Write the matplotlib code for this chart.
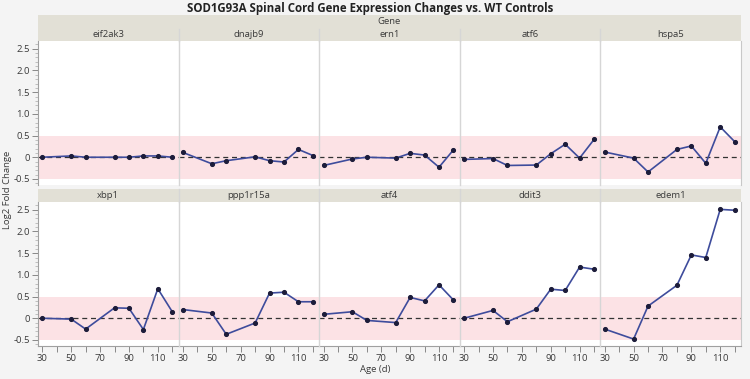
import matplotlib
matplotlib.use("Agg")
import matplotlib.pyplot as plt
from matplotlib.ticker import MultipleLocator, FixedLocator
import matplotlib.lines as mlines

plt.rcParams['font.family'] = ['Open Sans', 'DejaVu Sans']

ages = [30, 50, 60, 80, 90, 100, 110, 120]
genes = ["eif2ak3", "dnajb9", "ern1", "atf6", "hspa5",
         "xbp1", "ppp1r15a", "atf4", "ddit3", "edem1"]
eif2ak3 = [0.0, 0.03, 0.0, 0.0, 0.0, 0.03, 0.03, 0.0]
dnajb9 = [0.11, -0.15, -0.08, 0.01, -0.08, -0.11, 0.18, 0.04]
ern1 = [-0.19, -0.04, 0.0, -0.02, 0.09, 0.05, -0.23, 0.17]
atf6 = [-0.05, -0.03, -0.19, -0.18, 0.08, 0.30, -0.02, 0.41]
hspa5 = [0.12, -0.02, -0.34, 0.18, 0.26, -0.14, 0.70, 0.36]
xbp1 = [0.0, -0.02, -0.25, 0.24, 0.23, -0.26, 0.68, 0.15]
ppp1r15a = [0.20, 0.12, -0.37, -0.11, 0.58, 0.60, 0.38, 0.38]
atf4 = [0.09, 0.15, -0.05, -0.10, 0.48, 0.40, 0.77, 0.42]
ddit3 = [0.0, 0.18, -0.08, 0.21, 0.67, 0.64, 1.18, 1.13]
edem1 = [-0.25, -0.48, 0.28, 0.76, 1.46, 1.40, 2.51, 2.49]
series = [eif2ak3, dnajb9, ern1, atf6, hspa5, xbp1, ppp1r15a, atf4, ddit3, edem1]

title = "SOD1G93A Spinal Cord Gene Expression Changes vs. WT Controls"
ylabel = "Log2 Fold Change"
xlabel = "Age (d)"
band_lo, band_hi = -0.5, 0.5

W, H = 750, 379
fig = plt.figure(figsize=(W / 100, H / 100), dpi=100)
bg = "#F4F4F4"
fig.patch.set_facecolor(bg)

strip_col = "#E2E0D6"
sep_col = "#D6D6D6"
pink = "#FCE2E5"
line_col = "#3E4C9C"
mk_col = "#1C1C3A"
txt_col = "#3A3A3A"

def px_axes(x0, y0, x1, y1, **kw):
    return fig.add_axes([x0 / W, 1 - y1 / H, (x1 - x0) / W, (y1 - y0) / H], **kw)

left, right = 38, 741
colw = (right - left) / 5
rows = [(41, 185), (202, 346)]
strips = [(28.5, 41), (189, 202)]

gax = px_axes(left, 15, right, 28.5)
gax.set_facecolor(strip_col)
gax.set_xticks([]); gax.set_yticks([])
for s in gax.spines.values():
    s.set_visible(False)
gax.text(0.5, 0.5, "Gene", ha="center", va="center", fontsize=6.8, color=txt_col, transform=gax.transAxes)

fig.text(370 / W, 1 - 8.5 / H, title, ha="center", va="center", fontsize=8.3, fontweight="bold", color="#222222")

for i, (g, vals) in enumerate(zip(genes, series)):
    r, c = divmod(i, 5)
    x0 = left + c * colw
    x1 = x0 + colw
    ytop, ybot = rows[r]
    stop, sbot = strips[r]
    sax = px_axes(x0, stop, x1, sbot)
    sax.set_facecolor(strip_col)
    sax.set_xticks([]); sax.set_yticks([])
    for s in sax.spines.values():
        s.set_visible(False)
    sax.text(0.5, 0.5, g, ha="center", va="center", fontsize=6.8, color=txt_col, transform=sax.transAxes)

    ax = px_axes(x0, ytop, x1, ybot)
    ax.set_facecolor("white")
    ax.set_xlim(27, 124.4)
    ax.set_ylim(-0.64, 2.68)
    ax.axhspan(band_lo, band_hi, color=pink, lw=0, zorder=0)
    ax.axhline(0, color="#333333", lw=0.9, ls=(0, (4, 3)), zorder=1)
    ax.plot(ages, vals, color=line_col, lw=1.2, zorder=2)
    ax.plot(ages, vals, ls="none", marker="o", ms=2.7, color=mk_col, zorder=3)
    for s in ax.spines.values():
        s.set_visible(False)
    if c == 0:
        ax.spines["left"].set_visible(True)
        ax.spines["left"].set_color("#A0A0A0")
        ax.spines["left"].set_linewidth(0.8)
        ax.yaxis.set_major_locator(FixedLocator([-0.5, 0, 0.5, 1.0, 1.5, 2.0, 2.5]))
        ax.yaxis.set_minor_locator(MultipleLocator(0.1))
        ax.set_yticklabels(["-0.5", "0", "0.5", "1.0", "1.5", "2.0", "2.5"])
        ax.tick_params(axis="y", which="major", length=4, width=0.7, color="#888888",
                       labelsize=6.8, labelcolor=txt_col, pad=2)
        ax.tick_params(axis="y", which="minor", length=2, width=0.5, color="#AAAAAA")
    else:
        ax.set_yticks([])
        ax.set_yticks([], minor=True)
    if c > 0:
        ax.axvline(27, color=sep_col, lw=1.0, clip_on=False, zorder=5)
    if r == 1:
        ax.spines["bottom"].set_visible(True)
        ax.spines["bottom"].set_color("#A0A0A0")
        ax.spines["bottom"].set_linewidth(0.8)
        ax.xaxis.set_major_locator(FixedLocator([30, 50, 70, 90, 110]))
        ax.xaxis.set_minor_locator(FixedLocator([40, 60, 80, 100, 120]))
        ax.tick_params(axis="x", which="major", length=4, width=0.7, color="#888888",
                       labelsize=6.8, labelcolor=txt_col, pad=2)
        ax.tick_params(axis="x", which="minor", length=4, width=0.7, color="#888888")
    else:
        ax.set_xticks([])
        ax.set_xticks([], minor=True)
    if c == 4:
        ax.spines["right"].set_visible(True)
        ax.spines["right"].set_color("#C8C8C8")

for c in range(1, 5):
    xf = (left + c * colw) / W
    for (stop, sbot) in strips:
        fig.add_artist(mlines.Line2D([xf, xf], [1 - stop / H, 1 - sbot / H], color=sep_col, lw=1.0))

fig.text(8 / W, 1 - 190 / H, ylabel, rotation=90, ha="center", va="center", fontsize=6.8, color=txt_col)
fig.text(375 / W, 1 - 369 / H, xlabel, ha="center", va="center", fontsize=6.8, color=txt_col)

fig.savefig("out.png", dpi=100, facecolor=bg)
